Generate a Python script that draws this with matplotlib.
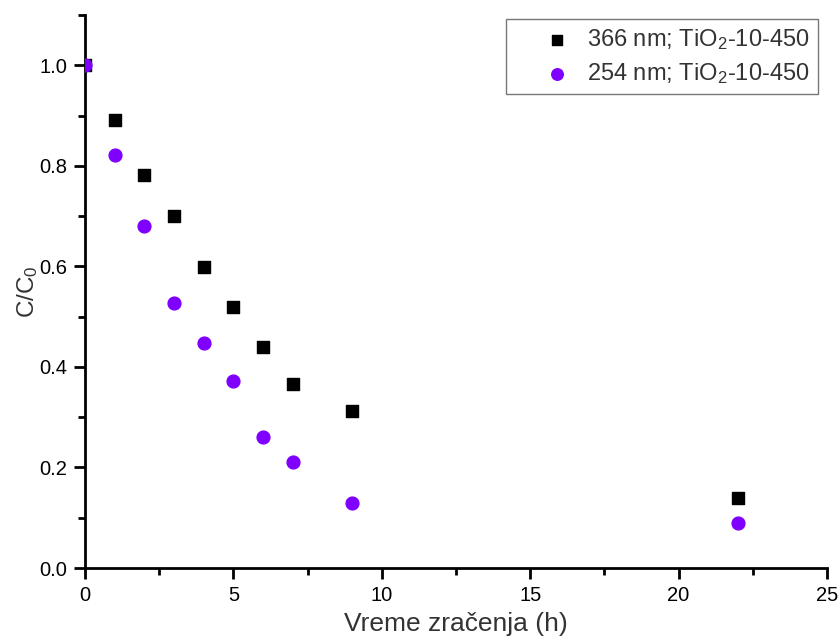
import numpy as np
from matplotlib import pyplot as plt
from matplotlib.ticker import MultipleLocator

plt.rcParams['font.family'] = ['Liberation Sans', 'DejaVu Sans']
plt.rcParams['mathtext.fontset'] = 'custom'
plt.rcParams['mathtext.rm'] = 'Liberation Sans'

hours = [0, 1, 2, 3, 4, 5, 6, 7, 9, 22]
c_366 = [1.0, 0.892, 0.781, 0.701, 0.598, 0.520, 0.440, 0.367, 0.313, 0.139]
c_254 = [1.0, 0.821, 0.681, 0.528, 0.448, 0.371, 0.261, 0.211, 0.129, 0.090]

label_366 = r'366 nm; TiO$\mathregular{_2}$-10-450'
label_254 = r'254 nm; TiO$\mathregular{_2}$-10-450'

fig = plt.figure(figsize=(8.4, 6.39), dpi=100)
ax = fig.add_axes([0.1012, 0.1111, 0.8833, 0.8654])

ax.scatter(hours, c_366, marker='s', s=65, color='black', label=label_366, zorder=3)
ax.scatter(hours, c_254, marker='o', s=85, color='#8000ff', label=label_254, zorder=4)

ax.set_xlim(0, 25)
ax.set_ylim(0, 1.1)
ax.xaxis.set_major_locator(MultipleLocator(5))
ax.xaxis.set_minor_locator(MultipleLocator(2.5))
ax.yaxis.set_minor_locator(MultipleLocator(0.1))
ax.set_yticks(np.arange(0, 1.01, 0.2))
ax.yaxis.set_major_formatter(plt.FuncFormatter(lambda v, p: f'{v:.1f}'))

for side in ['top', 'right']:
    ax.spines[side].set_visible(False)
for side in ['left', 'bottom']:
    ax.spines[side].set_linewidth(2)

ax.tick_params(which='major', direction='out', length=8, width=2, labelsize=14.5, colors='black', pad=5)
ax.tick_params(which='minor', direction='out', length=5, width=2)

ax.set_xlabel('Vreme zračenja (h)', fontsize=19, color='#333333', labelpad=5)
ax.set_ylabel('C/C$\\mathregular{_0}$', fontsize=17.5, color='#333333', labelpad=-1)

leg = ax.legend(loc='upper right', bbox_to_anchor=(0.993, 1.0), fontsize=17,
                frameon=True, fancybox=False, edgecolor='#555555',
                handletextpad=-0.5, borderpad=0.35, labelspacing=0.4,
                handlelength=3.6, scatterpoints=1, markerscale=0.9, borderaxespad=0.15)
leg.get_frame().set_linewidth(1)
for t in leg.get_texts():
    t.set_color('#333333')

fig.savefig('out.png', dpi=100)
